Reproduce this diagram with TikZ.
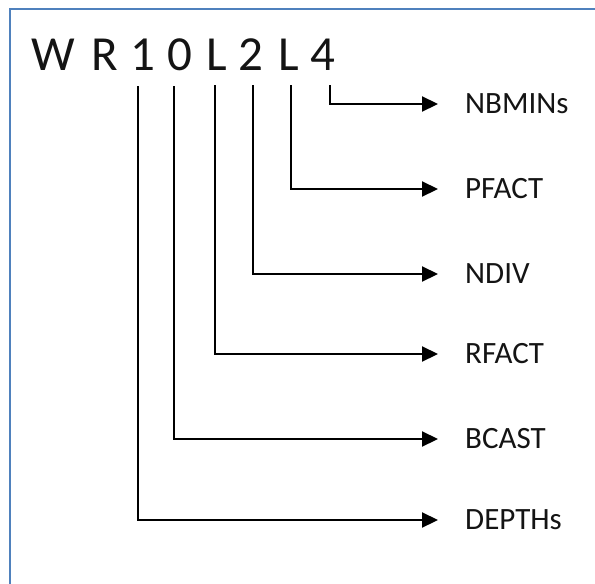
\documentclass[tikz,border=0pt]{standalone}
\usepackage{fontspec}
\setmainfont{Carlito}
\usetikzlibrary{arrows.meta, positioning}
\definecolor{FrameBlue}{HTML}{4F81BD}
\definecolor{CText}{HTML}{141414}

\begin{document}
\begin{tikzpicture}[
    x=1pt, y=1pt,
    chr/.style={font=\fontsize{49}{55}\selectfont, text=CText, inner sep=0pt, anchor=base},
    field/.style={font=\fontsize{31}{36}\selectfont, text=CText, inner sep=0pt, anchor=west, text height=19.5pt, text depth=0pt},
    arrow/.style={-{Triangle[length=16pt, width=15pt]}, line width=2.2pt, shorten >=27pt},
    frame/.style={draw=FrameBlue, line width=2pt},
]
\useasboundingbox (0,0) rectangle (595,-584);

% Frame
\draw[frame] (9.5,-584) |- (595,-8.5);

% Parameter string
\node[chr] (cW) at (53,-70) {W};
\node[chr] (cR) at (104.5,-70) {R};
\node[chr] (c1) at (143,-70) {1};
\node[chr] (c0) at (180,-70) {0};
\node[chr] (cL1) at (217,-70) {L};
\node[chr] (c2) at (251,-70) {2};
\node[chr] (cL2) at (289,-70) {L};
\node[chr] (c4) at (322.5,-70) {4};

% Fields
\node[field] (nbmin) at (465,-104) {NBMINs};
\node[field] (pfact) at (465,-189) {PFACT};
\node[field] (ndiv) at (465,-274) {NDIV};
\node[field] (rfact) at (465,-354) {RFACT};
\node[field] (bcast) at (465,-439) {BCAST};
\node[field] (depth) at (465,-520) {DEPTHs};

% Arrows
\draw[arrow] ([xshift=7.5pt, yshift=-15pt]c4.base) |- (nbmin.west);
\draw[arrow] ([xshift=2pt, yshift=-15pt]cL2.base) |- (pfact.west);
\draw[arrow] ([xshift=2pt, yshift=-15pt]c2.base) |- (ndiv.west);
\draw[arrow] ([xshift=-2pt, yshift=-15pt]cL1.base) |- (rfact.west);
\draw[arrow] ([xshift=-6pt, yshift=-16pt]c0.base) |- (bcast.west);
\draw[arrow] ([xshift=-5pt, yshift=-16pt]c1.base) |- (depth.west);

\end{tikzpicture}
\end{document}
